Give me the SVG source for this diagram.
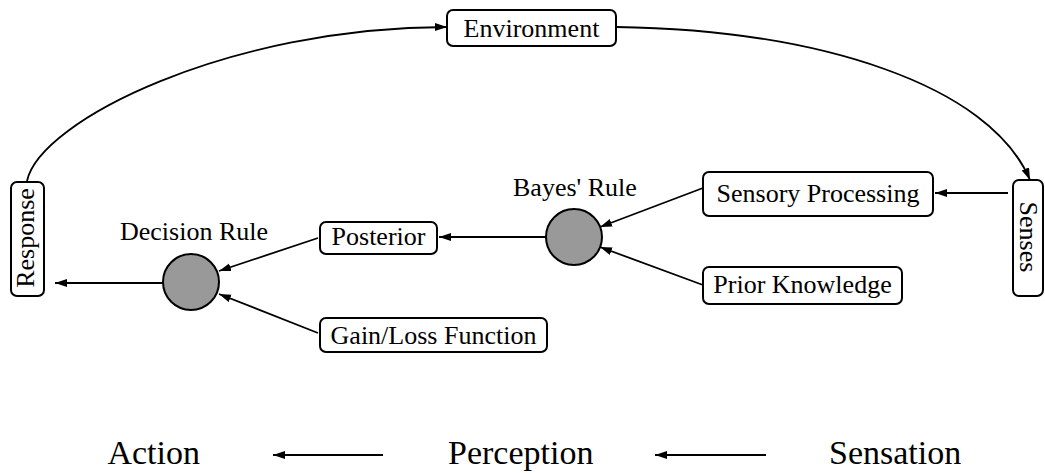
<svg xmlns="http://www.w3.org/2000/svg" width="1045" height="473" viewBox="0 0 1045 473">
  <style>
    .box { fill: #fff; stroke: #000; stroke-width: 2; }
    .hub { fill: #999; stroke: #000; stroke-width: 2; }
    .lbl { font-family: "Liberation Serif", "Times New Roman", serif; font-size: 26px; fill: #000; }
    .big { font-family: "Liberation Serif", "Times New Roman", serif; font-size: 34px; fill: #000; }
    .wire { fill: none; stroke: #000; stroke-width: 1.8; marker-end: url(#head); }
  </style>
  <defs>
    <marker id="head" markerUnits="userSpaceOnUse" markerWidth="13" markerHeight="9" refX="12" refY="4" orient="auto">
      <path d="M0,0 L12,4 L0,8 z" fill="#000"/>
    </marker>
  </defs>
  <rect width="1045" height="473" fill="#fff"/>

  <g id="connectors">
    <path class="wire" d="M27,181 C40,120 230,27 447,27"/>
    <path class="wire" d="M616,27 C820,30 990,85 1030,180"/>
    <path class="wire" d="M1008,193 L935,193"/>
    <path class="wire" d="M703,188 L600,227"/>
    <path class="wire" d="M703,285 L600,247"/>
    <path class="wire" d="M546,237 L439,237"/>
    <path class="wire" d="M318,238 L219,271"/>
    <path class="wire" d="M318,333 L219,294"/>
    <path class="wire" d="M163,283 L55,283"/>
    <path class="wire" d="M383,455 L273,455"/>
    <path class="wire" d="M766,455 L655,455"/>
  </g>

  <g id="environment">
    <rect class="box" x="447" y="10" width="169" height="36" rx="6"/>
    <text class="lbl" x="531.5" y="36.5" text-anchor="middle">Environment</text>
  </g>
  <g id="response">
    <rect class="box" x="11" y="182" width="33" height="114" rx="6"/>
    <text class="lbl" transform="translate(34,238) rotate(-90)" text-anchor="middle">Response</text>
  </g>
  <g id="senses">
    <rect class="box" x="1013" y="180" width="30" height="116" rx="6"/>
    <text class="lbl" transform="translate(1020,237) rotate(90)" text-anchor="middle">Senses</text>
  </g>
  <g id="sensory-processing">
    <rect class="box" x="703" y="172" width="230" height="44" rx="6"/>
    <text class="lbl" x="818" y="201.5" text-anchor="middle">Sensory Processing</text>
  </g>
  <g id="prior-knowledge">
    <rect class="box" x="703" y="267" width="199" height="37" rx="6"/>
    <text class="lbl" x="802.5" y="293" text-anchor="middle">Prior Knowledge</text>
  </g>
  <g id="bayes-rule">
    <circle class="hub" cx="574" cy="237" r="28"/>
    <text class="lbl" x="513" y="196">Bayes' Rule</text>
  </g>
  <g id="posterior">
    <rect class="box" x="320" y="222" width="117" height="32" rx="6"/>
    <text class="lbl" x="378.5" y="245" text-anchor="middle">Posterior</text>
  </g>
  <g id="gain-loss">
    <rect class="box" x="320" y="318" width="227" height="34" rx="6"/>
    <text class="lbl" x="433.5" y="344" text-anchor="middle">Gain/Loss Function</text>
  </g>
  <g id="decision-rule">
    <circle class="hub" cx="191" cy="282" r="28"/>
    <text class="lbl" x="120" y="240">Decision Rule</text>
  </g>

  <g id="stages">
    <text class="big" x="200" y="464" text-anchor="end">Action</text>
    <text class="big" x="448" y="464">Perception</text>
    <text class="big" x="829" y="464">Sensation</text>
  </g>
</svg>
